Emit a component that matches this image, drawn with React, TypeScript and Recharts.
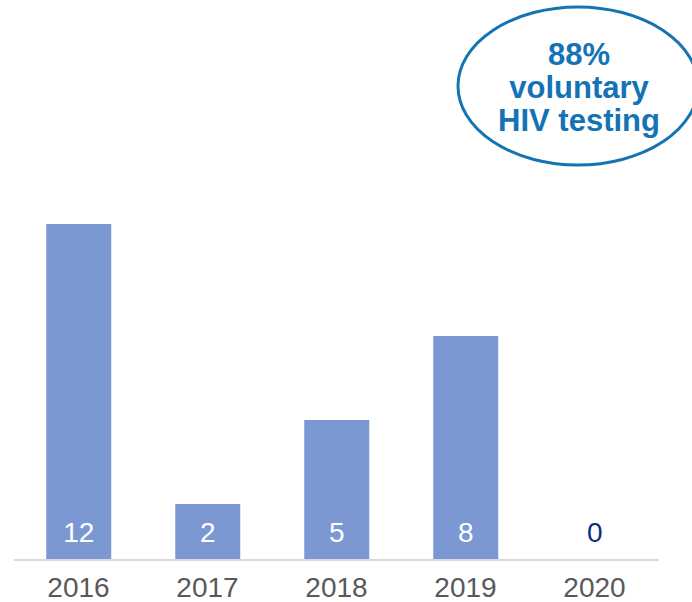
import { BarChart, Bar, XAxis, YAxis, LabelList, Cell } from 'recharts';

const years = ['2016', '2017', '2018', '2019', '2020'];
const cases = [12, 2, 5, 8, 0];
const calloutLines = ['88%', 'voluntary', 'HIV testing'];

const data = years.map((year, i) => ({ year, cases: cases[i] }));

const FONT = '"Liberation Sans", Arial, sans-serif';

function ValueLabel(props: any) {
  const { x, y, width, height, value } = props;
  const base = Number(y) + Number(height);
  return (
    <text
      x={Number(x) + Number(width) / 2}
      y={base - 18}
      textAnchor="middle"
      fontSize={28}
      fontFamily={FONT}
      fill={value > 0 ? '#ffffff' : '#0b2f86'}
    >
      {value}
    </text>
  );
}

export default function App() {
  return (
    <div style={{ position: 'absolute', left: 0, top: 0, width: 692, height: 602, background: '#fff', overflow: 'hidden' }}>
      <BarChart
        width={692}
        height={602}
        data={data}
        margin={{ top: 224, right: 33, left: 14, bottom: 0 }}
        barCategoryGap="25%"
      >
        <XAxis
          dataKey="year"
          height={42}
          axisLine={{ stroke: '#d9d9d9', strokeWidth: 2 }}
          tickLine={false}
          tickSize={6}
          tickMargin={11}
          tick={{ fontSize: 28, fill: '#595959', fontFamily: FONT }}
          interval={0}
        />
        <YAxis hide domain={[0, 12]} />
        <Bar dataKey="cases" fill="#7b98d3" minPointSize={1} isAnimationActive={false}>
          {cases.map((v, i) => (
            <Cell key={years[i]} fill={v > 0 ? '#7b98d3' : 'transparent'} />
          ))}
          <LabelList dataKey="cases" content={ValueLabel} />
        </Bar>
      </BarChart>
      <svg width={692} height={602} style={{ position: 'absolute', left: 0, top: 0, pointerEvents: 'none' }}>
        <ellipse cx={578} cy={86} rx={120} ry={79} fill="none" stroke="#1573b3" strokeWidth={3} />
        {calloutLines.map((line, i) => (
          <text
            key={line}
            x={579}
            y={65 + i * 33}
            textAnchor="middle"
            fontSize={31}
            fontWeight="bold"
            fontFamily={FONT}
            fill="#1473b5"
          >
            {line}
          </text>
        ))}
      </svg>
    </div>
  );
}
